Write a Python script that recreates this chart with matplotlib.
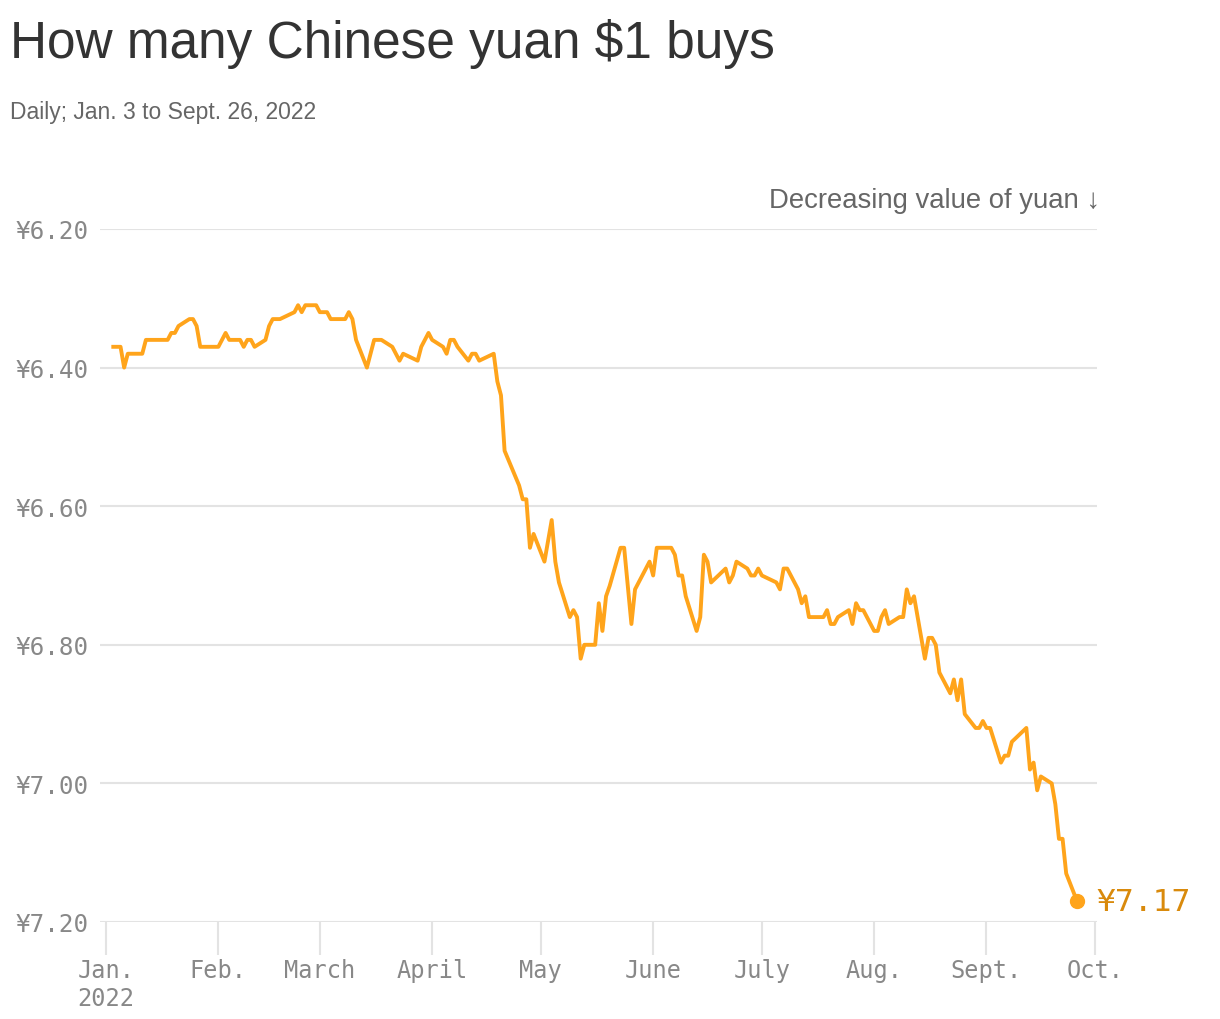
import pandas as pd
import matplotlib.pyplot as plt

# USD -> CNY (turning points of the daily line)
dates = [
    "01-03", "01-05", "01-06", "01-07", "01-11", "01-12", "01-18", "01-19", "01-20", "01-21",
    "01-24", "01-25", "01-26", "01-27", "02-01", "02-03", "02-04", "02-07", "02-08", "02-09",
    "02-10", "02-11", "02-14", "02-15", "02-16", "02-18", "02-22", "02-23", "02-24", "02-25",
    "02-28", "03-01", "03-03", "03-04", "03-08", "03-09", "03-10", "03-11", "03-14", "03-16",
    "03-18", "03-21", "03-23", "03-24", "03-28", "03-29", "03-31", "04-01", "04-04", "04-05",
    "04-06", "04-07", "04-08", "04-11", "04-12", "04-13", "04-14", "04-18", "04-19", "04-20",
    "04-21", "04-25", "04-26", "04-27", "04-28", "04-29", "05-02", "05-04", "05-05", "05-06",
    "05-09", "05-10", "05-11", "05-12", "05-13", "05-16", "05-17", "05-18", "05-19", "05-20",
    "05-23", "05-24", "05-26", "05-27", "05-31", "06-01", "06-02", "06-06", "06-07", "06-08",
    "06-09", "06-10", "06-13", "06-14", "06-15", "06-16", "06-17", "06-21", "06-22", "06-23",
    "06-24", "06-27", "06-28", "06-29", "06-30", "07-01", "07-05", "07-06", "07-07", "07-08",
    "07-11", "07-12", "07-13", "07-14", "07-18", "07-19", "07-20", "07-21", "07-22", "07-25",
    "07-26", "07-27", "07-28", "07-29", "08-01", "08-02", "08-03", "08-04", "08-05", "08-08",
    "08-09", "08-10", "08-11", "08-12", "08-15", "08-16", "08-17", "08-18", "08-19", "08-22",
    "08-23", "08-24", "08-25", "08-26", "08-29", "08-30", "08-31", "09-01", "09-02", "09-05",
    "09-06", "09-07", "09-08", "09-12", "09-13", "09-14", "09-15", "09-16", "09-19", "09-20",
    "09-21", "09-22", "09-23", "09-26",
]
yuan = [
    6.37, 6.37, 6.40, 6.38, 6.38, 6.36, 6.36, 6.35, 6.35, 6.34,
    6.33, 6.33, 6.34, 6.37, 6.37, 6.35, 6.36, 6.36, 6.37, 6.36,
    6.36, 6.37, 6.36, 6.34, 6.33, 6.33, 6.32, 6.31, 6.32, 6.31,
    6.31, 6.32, 6.32, 6.33, 6.33, 6.32, 6.33, 6.36, 6.40, 6.36,
    6.36, 6.37, 6.39, 6.38, 6.39, 6.37, 6.35, 6.36, 6.37, 6.38,
    6.36, 6.36, 6.37, 6.39, 6.38, 6.38, 6.39, 6.38, 6.42, 6.44,
    6.52, 6.57, 6.59, 6.59, 6.66, 6.64, 6.68, 6.62, 6.68, 6.71,
    6.76, 6.75, 6.76, 6.82, 6.80, 6.80, 6.74, 6.78, 6.73, 6.715,
    6.66, 6.66, 6.77, 6.72, 6.68, 6.70, 6.66, 6.66, 6.67, 6.70,
    6.70, 6.73, 6.78, 6.76, 6.67, 6.68, 6.71, 6.69, 6.71, 6.70,
    6.68, 6.69, 6.70, 6.70, 6.69, 6.70, 6.71, 6.72, 6.69, 6.69,
    6.72, 6.74, 6.73, 6.76, 6.76, 6.75, 6.77, 6.77, 6.76, 6.75,
    6.77, 6.74, 6.75, 6.75, 6.78, 6.78, 6.76, 6.75, 6.77, 6.76,
    6.76, 6.72, 6.74, 6.73, 6.82, 6.79, 6.79, 6.80, 6.84, 6.87,
    6.85, 6.88, 6.85, 6.90, 6.92, 6.92, 6.91, 6.92, 6.92, 6.97,
    6.96, 6.96, 6.94, 6.92, 6.98, 6.97, 7.01, 6.99, 7.00, 7.03,
    7.08, 7.08, 7.13, 7.17,
]

y_ticks = [6.2, 6.4, 6.6, 6.8, 7.0, 7.2]
y_tick_labels = ["¥6.20", "¥6.40", "¥6.60", "¥6.80", "¥7.00", "¥7.20"]
month_starts = ["2022-%02d-01" % m for m in range(1, 11)]
month_labels = ["Jan.\n2022", "Feb.", "March", "April", "May", "June", "July", "Aug.", "Sept.", "Oct."]

x = pd.to_datetime(["2022-" + d for d in dates])
ticks = pd.to_datetime(month_starts)

orange = "#ffa41b"
grid_col = "#e3e3e3"
mono = "DejaVu Sans Mono"

fig = plt.figure(figsize=(12.2, 10.2), dpi=100)
ax = fig.add_axes([100 / 1220, 1 - 923 / 1020, 997 / 1220, 693 / 1020])

ax.plot(x, yuan, color=orange, lw=2.8, solid_joinstyle="round", zorder=3)
ax.plot(x[-1], yuan[-1], "o", color=orange, ms=10, zorder=4)
ax.annotate("¥%.2f" % yuan[-1], (x[-1], yuan[-1]), xytext=(14, 0), textcoords="offset points",
            ha="left", va="center", color="#d98a0c", fontsize=22.5, family=mono, annotation_clip=False)

ax.set_ylim(7.2, 6.2)
ax.set_xlim(pd.Timestamp("2021-12-30 08:00"), pd.Timestamp("2022-10-01 12:00"))

ax.set_yticks(y_ticks)
ax.set_yticklabels(y_tick_labels, family=mono, fontsize=17.5, color="#888888")
ax.set_xticks(ticks)
ax.set_xticklabels(month_labels, family=mono, fontsize=17, color="#888888")
ax.tick_params(axis="y", length=0, pad=8)
ax.tick_params(axis="x", length=24, width=1.5, color=grid_col, pad=2)

ax.grid(axis="y", color=grid_col, lw=1.5)
ax.set_axisbelow(True)
for s in ax.spines.values():
    s.set_visible(False)

fig.text(10 / 1220, 1 - 44 / 1020, "How many Chinese yuan $1 buys", fontsize=37,
         family="Liberation Sans", color="#333333", va="center", ha="left")
fig.text(10 / 1220, 1 - 112 / 1020, "Daily; Jan. 3 to Sept. 26, 2022", fontsize=16.5,
         family="Liberation Sans", color="#666666", va="center", ha="left")
fig.text(1100 / 1220, 1 - 201 / 1020, "Decreasing value of yuan ↓", fontsize=19.8,
         family=["Liberation Sans", "DejaVu Sans"], color="#666666", va="center", ha="right")

fig.savefig("out.png", dpi=100)
